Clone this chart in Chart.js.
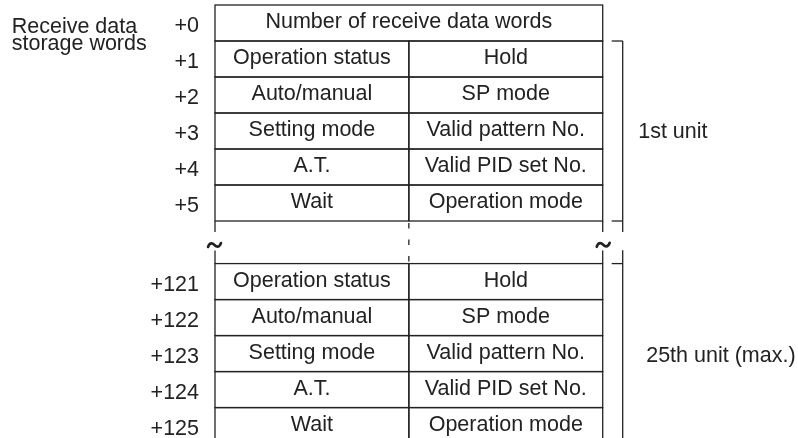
<!DOCTYPE html>
<html><head><meta charset="utf-8">
<script src="https://cdn.jsdelivr.net/npm/chart.js@4.4.1/dist/chart.umd.min.js"></script>
<style>html,body{margin:0;padding:0;background:#fff;}canvas{display:block;}</style>
</head><body>
<canvas id="c" width="798" height="438"></canvas>
<script>
// ---------- data ----------
const STORAGE_LABEL = ['Receive data', 'storage words'];
const HEADER_OFFSET = '+0';
const HEADER_TEXT = 'Number of receive data words';
const UNIT_NAMES = ['1st unit', '25th unit (max.)'];
const UNIT_OFFSETS = [
  ['+1', '+2', '+3', '+4', '+5'],
  ['+121', '+122', '+123', '+124', '+125']
];
const UPPER_BYTE = ['Operation status', 'Auto/manual', 'Setting mode', 'A.T.', 'Wait'];
const LOWER_BYTE = ['Hold', 'SP mode', 'Valid pattern No.', 'Valid PID set No.', 'Operation mode'];

// ---------- style / layout ----------
const FONT = '"Liberation Sans", Arial, sans-serif';
const FS = 21.5;
const INK = '#222';
const LINE_W = 1.3;
const ROW_PX = 36;
const GAP_ROWS = 1.183;   // vertical break between the units, in rows

// ---------- build table rows ----------
const cells = [{ x: [0, 2], y: 0, text: HEADER_TEXT }];
const rowLabels = [{ y: 0, text: HEADER_OFFSET }];
const unitSpans = [];
UNIT_OFFSETS.forEach((offs, u) => {
  const start = 1 + u * (UPPER_BYTE.length + GAP_ROWS);
  offs.forEach((o, i) => {
    const y = start + i;
    rowLabels.push({ y, text: o });
    cells.push({ x: [0, 1], y, text: UPPER_BYTE[i] });
    cells.push({ x: [1, 2], y, text: LOWER_BYTE[i] });
  });
  unitSpans.push({ top: start - 0.5, bottom: start + offs.length - 0.5, name: UNIT_NAMES[u] });
});

const diagramPlugin = {
  id: 'diagram',
  afterDatasetsDraw(chart) {
    const { ctx, chartArea: a, scales: { x, y } } = chart;
    const meta = chart.getDatasetMeta(0);
    ctx.save();
    ctx.strokeStyle = INK;
    ctx.fillStyle = INK;
    ctx.lineWidth = LINE_W;
    ctx.font = FS + 'px ' + FONT;
    ctx.textBaseline = 'alphabetic';

    // cells
    meta.data.forEach((bar, i) => {
      const p = bar.getProps(['x', 'y', 'base', 'height'], true);
      const l = Math.min(p.x, p.base), r = Math.max(p.x, p.base);
      const t = p.y - p.height / 2, b = p.y + p.height / 2;
      ctx.strokeRect(l, t, r - l, b - t);
      ctx.textAlign = 'center';
      ctx.fillText(cells[i].text, (l + r) / 2, p.y + 5.3);
    });

    const x0 = x.getPixelForValue(0), xm = x.getPixelForValue(1), x2 = x.getPixelForValue(2);
    const secBottom = y.getPixelForValue(unitSpans[0].bottom);
    const sec2Top = y.getPixelForValue(unitSpans[1].top);

    // open ends of the table at the break
    const line = (ax, ay, bx, by) => { ctx.beginPath(); ctx.moveTo(ax, ay); ctx.lineTo(bx, by); ctx.stroke(); };
    [x0, x2].forEach(px => {
      line(px, secBottom, px, secBottom + 11);
      line(px, sec2Top - 13, px, sec2Top);
    });
    ctx.save();
    ctx.setLineDash([5.5, 11]);
    line(xm, secBottom + 2, xm, sec2Top);
    ctx.restore();

    // break marks (tilde)
    const mid = (secBottom + sec2Top) / 2;
    const tilde = (cx, cy) => {
      ctx.save();
      ctx.lineWidth = 2.6;
      ctx.lineCap = 'round';
      ctx.beginPath();
      ctx.moveTo(cx - 6.5, cy + 2);
      ctx.bezierCurveTo(cx - 4.5, cy - 3.5, cx - 1.5, cy - 1.5, cx, cy);
      ctx.bezierCurveTo(cx + 1.5, cy + 1.5, cx + 4.5, cy + 3.5, cx + 6.5, cy - 2);
      ctx.stroke();
      ctx.restore();
    };
    tilde(x0 - 0.5, mid + 2.7);
    tilde(x2 + 0.5, mid + 2.5);

    // brackets
    const bx = a.right + 20;
    const tickL = bx - 11;
    const b1Top = y.getPixelForValue(unitSpans[0].top);
    line(tickL, b1Top, bx, b1Top);
    line(bx, b1Top, bx, secBottom + 11);
    line(tickL, secBottom, bx, secBottom);
    line(bx, sec2Top - 13.3, bx, chart.height + 2);
    line(tickL, sec2Top, bx, sec2Top);

    ctx.font = FS + 'px ' + FONT;
    ctx.textAlign = 'left';
    const b2Bottom = y.getPixelForValue(unitSpans[1].bottom);
    ctx.fillText(unitSpans[0].name, bx + 15.5, (b1Top + secBottom) / 2 + 7.3);
    ctx.fillText(unitSpans[1].name, bx + 23.5, (sec2Top + b2Bottom) / 2 + 8.8);

    // word offset labels
    ctx.textAlign = 'right';
    rowLabels.forEach(r => {
      ctx.fillText(r.text, x0 - 16, y.getPixelForValue(r.y) + 9.3);
    });

    // storage label
    ctx.textAlign = 'left';
    const y0 = y.getPixelForValue(0);
    ctx.fillText(STORAGE_LABEL[0], 11.7, y0 + 10);
    ctx.fillText(STORAGE_LABEL[1], 11.7, y0 + 26.7);
    ctx.restore();
  }
};

new Chart(document.getElementById('c'), {
  type: 'bar',
  data: {
    datasets: [{
      data: cells,
      backgroundColor: '#fff',
      borderWidth: 0,
      barPercentage: 1,
      categoryPercentage: 1
    }]
  },
  options: {
    indexAxis: 'y',
    responsive: false,
    animation: false,
    events: [],
    layout: { padding: { left: 215, right: 195.3, top: 5, bottom: 0 } },
    scales: {
      x: { type: 'linear', min: 0, max: 2, display: false, offset: false },
      y: {
        type: 'linear', reverse: true, display: false, offset: false,
        min: -0.5, max: -0.5 + (438 - 5) / ROW_PX,
        afterBuildTicks: s => { s.ticks = rowLabels.map(r => ({ value: r.y })); }
      }
    },
    plugins: { legend: { display: false }, tooltip: { enabled: false }, title: { display: false } }
  },
  plugins: [diagramPlugin]
});
</script>
</body></html>
